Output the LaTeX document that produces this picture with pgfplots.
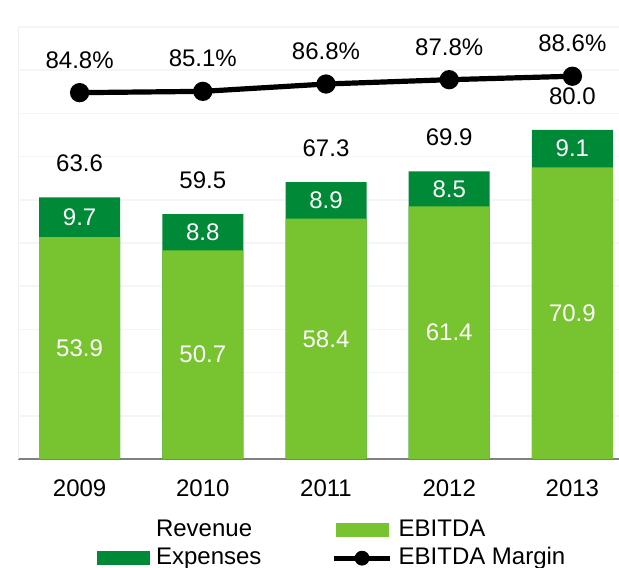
\documentclass[border=0pt]{standalone}
\usepackage{fontspec}
\setmainfont{Liberation Sans}
\usepackage{pgfplots}
\usepackage{pgfplotstable}
\pgfplotsset{compat=1.18}

\definecolor{ebitdac}{RGB}{120,195,48}
\definecolor{expc}{RGB}{0,137,54}
\definecolor{gridc}{RGB}{245,245,245}
\newcommand\cf{\fontsize{12}{14}\selectfont}

% x = year index, values in millions, margin in %
\pgfplotstableread{
x ebitda exp rev margin
0 53.9 9.7 63.6 84.8
1 50.7 8.8 59.5 85.1
2 58.4 8.9 67.3 86.8
3 61.4 8.5 69.9 87.8
4 70.9 9.1 80.0 88.6
}\fin

\pgfplotsset{
  base/.style={scale only axis, width=308pt, height=216pt, xmin=-0.5, xmax=4.5},
  lbl/.style={draw=none, mark=none, forget plot, point meta=explicit symbolic,
    nodes near coords,
    every node near coord/.append style={font=\cf, inner sep=0pt, #1}},
}

\begin{document}
\begin{tikzpicture}
\begin{axis}[base, name=ax,
  ymin=0, ymax=105,
  ytick={10.5,21,31.5,42,52.5,63,73.5,84,94.5,105}, yticklabels={},
  ymajorgrids, grid style={draw=gridc, line width=0.8pt},
  xtick={0,1,2,3,4}, xticklabels={2009,2010,2011,2012,2013},
  major tick length=0pt,
  axis x line*=bottom, axis y line*=left,
  x axis line style={draw=gray, line width=0.8pt},
  y axis line style={draw=gray!12},
  xticklabel style={font=\cf, inner sep=0pt, anchor=north, yshift=-10.2pt},
  legend columns=2, legend cell align=left,
  legend style={at={(0.128,-0.136)}, anchor=north west, draw=none, fill=none,
    inner sep=0pt, font=\cf, row sep=2pt,
    nodes={inner sep=0pt, text height=9pt, text depth=3pt},
    /tikz/every odd column/.append style={column sep=3pt},
    /tikz/every even column/.append style={column sep=35pt}},
]
\addplot[ybar, bar width=40.5pt, bar shift=0pt, fill=expc, draw=none, forget plot]
  table[x=x, y=rev] {\fin};
\addplot[ybar, bar width=40.5pt, bar shift=0pt, fill=ebitdac, draw=none, forget plot]
  table[x=x, y=ebitda] {\fin};
\addplot[lbl={white, anchor=center}] table[x=x, y expr=\thisrow{ebitda}/2, meta=ebitda] {\fin};
\addplot[lbl={white, anchor=center}] table[x=x, y expr=\thisrow{ebitda}+\thisrow{exp}/2, meta=exp] {\fin};
\addplot[lbl={black, anchor=south, yshift=12.5pt}] table[x=x, y=rev, meta=rev] {\fin};

\addlegendimage{empty legend}
\addlegendentry{Revenue}
\addlegendimage{legend image code/.code={\fill[ebitdac] (0pt,-3.25pt) rectangle (26pt,3.25pt);}}
\addlegendentry{EBITDA}
\addlegendimage{legend image code/.code={\fill[expc] (0pt,-3.25pt) rectangle (26pt,3.25pt);}}
\addlegendentry{Expenses}
\addlegendimage{legend image code/.code={\draw[line width=2.6pt] (-1pt,0pt) -- (27pt,0pt); \fill (13pt,0pt) circle (3.5pt);}}
\addlegendentry{EBITDA Margin}
\end{axis}

\begin{axis}[base, at={(ax.south west)}, anchor=south west, ymin=0, ymax=100, hide axis]
\addplot[black, line width=2.6pt, mark=*, mark size=3.5pt, mark options={draw=none, fill=black},
  point meta=explicit symbolic, nodes near coords={\pgfplotspointmeta\%},
  every node near coord/.append style={font=\cf, black, inner sep=0pt, anchor=south, yshift=10.8pt}]
  table[x=x, y=margin, meta=margin] {\fin};
\end{axis}

\pgfresetboundingbox
\path[use as bounding box] (ax.south west) ++(-9pt,-54pt) rectangle ++(309.5pt,283.5pt);
\end{tikzpicture}
\end{document}
